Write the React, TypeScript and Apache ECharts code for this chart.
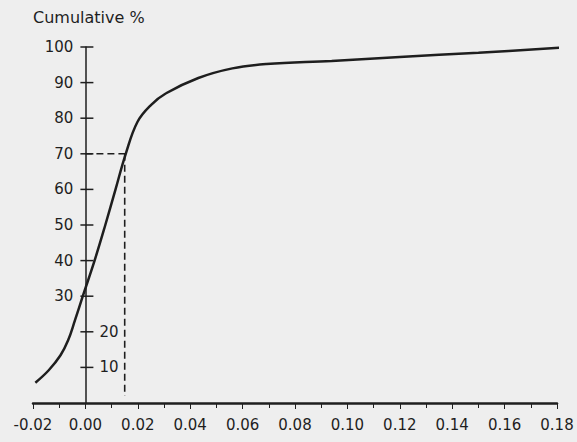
import React, { useEffect, useRef } from "react";
import * as echarts from "echarts";

// Curve (x = value, y = cumulative %)
const curveX = [-0.0191, -0.014, -0.0095, -0.0066, -0.004, -0.001, 0.0035, 0.0076, 0.0115, 0.0154, 0.0199, 0.025, 0.0308, 0.0431, 0.0561, 0.0691, 0.094, 0.12, 0.15, 0.1855];
const curveY = [5.7, 9.2, 13.4, 17.6, 23.2, 30, 40, 50, 60, 70, 79, 83.7, 87, 91.3, 94, 95.2, 96.1, 97.2, 98.4, 100];

// Y tick values (drawn on the y axis at x = 0)
const yTicks = [10, 20, 30, 40, 50, 60, 70, 80, 90, 100];

// Dashed guide lines at 70 %
const guideLevel = 70;
const guideHEnd = 0.0154;
const guideX = 0.015;
const guideBottom = 2;

const FONT = '"DejaVu Sans", "Liberation Sans", Arial, sans-serif';
const INK = "#1e1e1e";

export default function App() {
  const ref = useRef<HTMLDivElement>(null);

  useEffect(() => {
    if (!ref.current) return;
    const chart = echarts.init(ref.current, undefined, { renderer: "svg" });
    chart.setOption({
      animation: false,
      backgroundColor: "#eeeeee",
      grid: { left: 33, right: 20, top: 47, bottom: 39, containLabel: false },
      graphic: [
        {
          type: "text",
          left: 33,
          top: 9,
          style: { text: "Cumulative %", font: `16px ${FONT}`, fill: INK },
        },
      ],
      xAxis: {
        type: "value",
        min: -0.02,
        max: 0.18,
        interval: 0.02,
        axisLine: { show: true, onZero: false, lineStyle: { color: INK, width: 2.5 } },
        axisTick: { show: true, inside: false, length: 6, lineStyle: { color: INK, width: 1 } },
        minorTick: { show: true, splitNumber: 2, length: 5, lineStyle: { color: INK, width: 1 } },
        splitLine: { show: false },
        minorSplitLine: { show: false },
        axisLabel: {
          margin: 14,
          color: INK,
          fontSize: 15,
          fontFamily: FONT,
          formatter: (v: number) => v.toFixed(2),
        },
      },
      yAxis: {
        type: "value",
        min: 0,
        max: 100,
        interval: 10,
        axisLine: { show: true, onZero: true, lineStyle: { color: INK, width: 1.5 } },
        axisTick: { show: false },
        axisLabel: { show: false },
        splitLine: { show: false },
      },
      series: [
        {
          type: "line",
          data: curveX.map((x, i) => [x, curveY[i]]),
          smooth: 0.4,
          showSymbol: false,
          clip: false,
          lineStyle: { color: INK, width: 2.5 },
          z: 4,
        },
        {
          type: "line",
          data: [
            [0, guideLevel],
            [guideHEnd, guideLevel],
          ],
          showSymbol: false,
          lineStyle: { color: INK, width: 1.6, type: [7, 4] },
          z: 3,
        },
        {
          type: "line",
          data: [
            [guideX, guideLevel],
            [guideX, guideBottom],
          ],
          showSymbol: false,
          lineStyle: { color: INK, width: 1.6, type: [7, 4] },
          z: 3,
        },
        {
          type: "custom",
          data: yTicks.map((v) => [0, v]),
          clip: false,
          z: 5,
          renderItem: (_params: any, api: any) => {
            const v = api.value(1);
            const p = api.coord([0, v]);
            const left = v >= 30;
            return {
              type: "group",
              children: [
                {
                  type: "line",
                  shape: { x1: p[0] - 5, y1: p[1], x2: p[0] + 8, y2: p[1] },
                  style: { stroke: INK, lineWidth: 1.5 },
                },
                {
                  type: "text",
                  style: {
                    text: String(v),
                    x: left ? p[0] - 12 : p[0] + 14,
                    y: p[1],
                    align: left ? "right" : "left",
                    verticalAlign: "middle",
                    font: `15px ${FONT}`,
                    fill: INK,
                  },
                },
              ],
            };
          },
        },
      ],
    });
    return () => chart.dispose();
  }, []);

  return (
    <div
      ref={ref}
      style={{ position: "fixed", left: 0, top: 0, width: 577, height: 442 }}
    />
  );
}
